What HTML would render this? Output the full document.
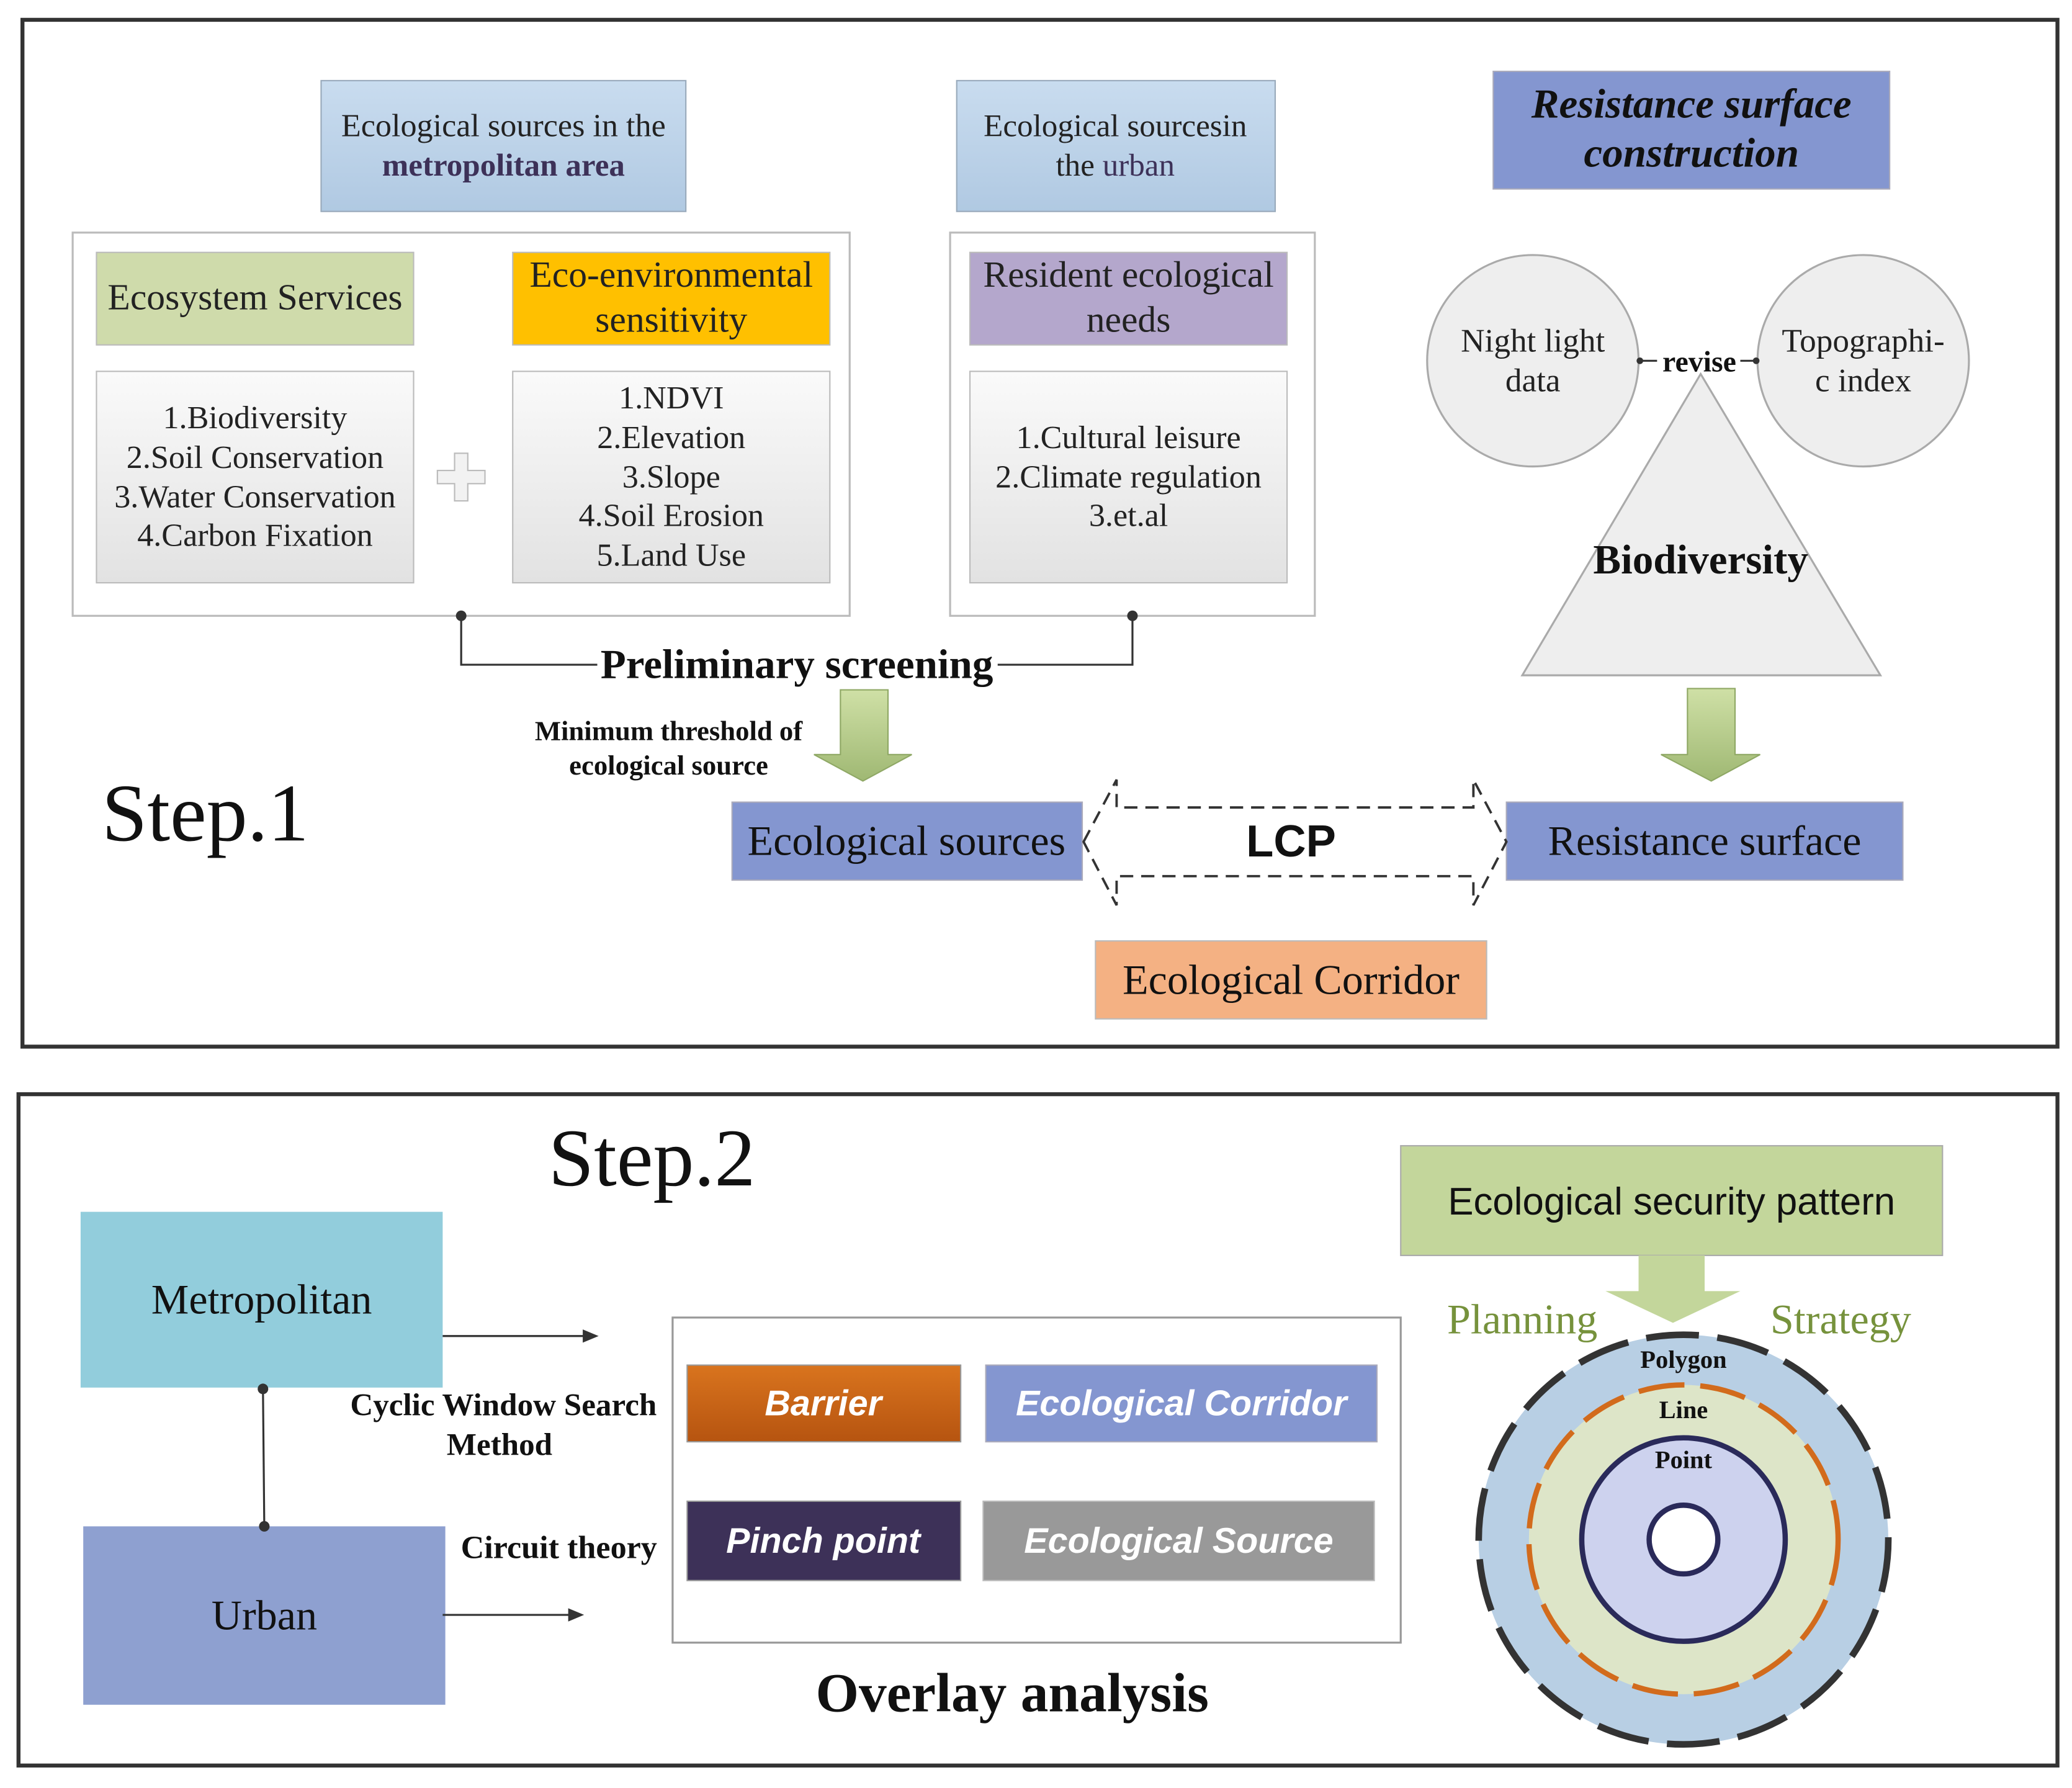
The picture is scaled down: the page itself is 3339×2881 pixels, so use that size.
<!DOCTYPE html>
<html><head><meta charset="utf-8"><style>
html,body{margin:0;padding:0;background:#fff;}
svg{display:block;}
.s{font-family:"Liberation Serif",serif;}
.a{font-family:"Liberation Sans","DejaVu Sans",sans-serif;}
</style></head><body>
<svg width="3339" height="2881" viewBox="0 0 1568 1353" preserveAspectRatio="none" xmlns="http://www.w3.org/2000/svg">
<defs>
<linearGradient id="gb" x1="0" y1="0" x2="0" y2="1"><stop offset="0" stop-color="#c9dcef"/><stop offset="1" stop-color="#b0c9e2"/></linearGradient>
<linearGradient id="gg" x1="0" y1="0" x2="0" y2="1"><stop offset="0" stop-color="#fafafa"/><stop offset="1" stop-color="#e2e2e2"/></linearGradient>
<linearGradient id="go" x1="0" y1="0" x2="0" y2="1"><stop offset="0" stop-color="#d9741e"/><stop offset="1" stop-color="#b65410"/></linearGradient>
<linearGradient id="gv" x1="0" y1="0" x2="0" y2="1"><stop offset="0" stop-color="#cfe0a6"/><stop offset="1" stop-color="#9fb873"/></linearGradient>
</defs>
<rect x="0" y="0" width="1568" height="1353" fill="#fff"/>
<rect x="17" y="15" width="1540" height="777" fill="#fff" stroke="#333" stroke-width="3"/>
<rect x="14" y="828" width="1543" height="508" fill="#fff" stroke="#333" stroke-width="3"/>

<rect x="243" y="61" width="276" height="99" fill="url(#gb)" stroke="#9ab" stroke-width="1"/>
<text class="s" x="381" y="103" font-size="24.5" text-anchor="middle" fill="#222">Ecological sources in the</text>
<text class="s" x="381" y="133" font-size="24" text-anchor="middle" fill="#3d3158" font-weight="bold">metropolitan area</text>
<rect x="724" y="61" width="241" height="99" fill="url(#gb)" stroke="#9ab" stroke-width="1"/>
<text class="s" x="844" y="103" font-size="24" text-anchor="middle" fill="#222">Ecological sourcesin</text>
<text class="s" x="844" y="133" font-size="24" text-anchor="middle" fill="#222">the <tspan fill="#3d3158">urban</tspan></text>
<rect x="1130" y="54" width="300" height="89" fill="#8496d0" stroke="#aab" stroke-width="1"/>
<text class="s" x="1280" y="89" font-size="31.5" text-anchor="middle" font-weight="bold" font-style="italic" fill="#111">Resistance surface</text>
<text class="s" x="1280" y="126" font-size="31.5" text-anchor="middle" font-weight="bold" font-style="italic" fill="#111">construction</text>

<rect x="55" y="176" width="588" height="290" fill="#fff" stroke="#bbb" stroke-width="1.5"/>
<rect x="719" y="176" width="276" height="290" fill="#fff" stroke="#bbb" stroke-width="1.5"/>
<rect x="73" y="191" width="240" height="70" fill="#cfdbab" stroke="#bbb"/>
<text class="s" x="193" y="234" font-size="28" text-anchor="middle" fill="#222">Ecosystem Services</text>
<rect x="388" y="191" width="240" height="70" fill="#ffc000" stroke="#bbb"/>
<text class="s" x="508" y="217" font-size="28" text-anchor="middle" fill="#222">Eco-environmental</text>
<text class="s" x="508" y="251" font-size="28" text-anchor="middle" fill="#222">sensitivity</text>
<rect x="734" y="191" width="240" height="70" fill="#b4a7cc" stroke="#bbb"/>
<text class="s" x="854" y="217" font-size="28" text-anchor="middle" fill="#222">Resident ecological</text>
<text class="s" x="854" y="251" font-size="28" text-anchor="middle" fill="#222">needs</text>

<rect x="73" y="281" width="240" height="160" fill="url(#gg)" stroke="#bbb"/>
<g class="s" font-size="24.5" text-anchor="middle" fill="#222">
<text x="193" y="324">1.Biodiversity</text>
<text x="193" y="354">2.Soil Conservation</text>
<text x="193" y="384">3.Water Conservation</text>
<text x="193" y="413">4.Carbon Fixation</text>
</g>
<rect x="388" y="281" width="240" height="160" fill="url(#gg)" stroke="#bbb"/>
<g class="s" font-size="24.5" text-anchor="middle" fill="#222">
<text x="508" y="309">1.NDVI</text>
<text x="508" y="339">2.Elevation</text>
<text x="508" y="369">3.Slope</text>
<text x="508" y="398">4.Soil Erosion</text>
<text x="508" y="428">5.Land Use</text>
</g>
<rect x="734" y="281" width="240" height="160" fill="url(#gg)" stroke="#bbb"/>
<g class="s" font-size="24.5" text-anchor="middle" fill="#222">
<text x="854" y="339">1.Cultural leisure</text>
<text x="854" y="369">2.Climate regulation</text>
<text x="854" y="398">3.et.al</text>
</g>
<path d="M344 343 h10 v13 h13 v10 h-13 v13 h-10 v-13 h-13 v-10 h13 z" fill="#f2f2f2" stroke="#bbb"/>

<polygon points="1287,283 1152,511 1423,511" fill="#eeeeee" stroke="#aaa" stroke-width="1.5"/>
<circle cx="1160" cy="273" r="80" fill="#eeeeee" stroke="#aaa" stroke-width="1.5"/>
<circle cx="1410" cy="273" r="80" fill="#eeeeee" stroke="#aaa" stroke-width="1.5"/>
<text class="s" x="1160" y="266" font-size="25" text-anchor="middle" fill="#222">Night light</text>
<text class="s" x="1160" y="296" font-size="25" text-anchor="middle" fill="#222">data</text>
<text class="s" x="1410" y="266" font-size="25" text-anchor="middle" fill="#222">Topographi-</text>
<text class="s" x="1410" y="296" font-size="25" text-anchor="middle" fill="#222">c index</text>
<line x1="1241" y1="273" x2="1254" y2="273" stroke="#333" stroke-width="1.5"/>
<line x1="1317" y1="273" x2="1330" y2="273" stroke="#333" stroke-width="1.5"/>
<circle cx="1241" cy="273" r="2.5" fill="#333"/><circle cx="1329" cy="273" r="2.5" fill="#333"/>
<text class="s" x="1286" y="281" font-size="22.5" text-anchor="middle" font-weight="bold" fill="#111">revise</text>
<text class="s" x="1287" y="434" font-size="31.5" text-anchor="middle" font-weight="bold" fill="#111">Biodiversity</text>

<polyline points="349,466 349,503 452,503" fill="none" stroke="#333" stroke-width="1.5"/>
<polyline points="755,503 857,503 857,466" fill="none" stroke="#333" stroke-width="1.5"/>
<circle cx="349" cy="466" r="4" fill="#333"/><circle cx="857" cy="466" r="4" fill="#333"/>
<text class="s" x="603" y="513" font-size="31.5" text-anchor="middle" font-weight="bold" fill="#111">Preliminary screening</text>
<text class="s" x="506" y="560" font-size="21" text-anchor="middle" font-weight="bold" fill="#111">Minimum threshold of</text>
<text class="s" x="506" y="586" font-size="21" text-anchor="middle" font-weight="bold" fill="#111">ecological source</text>

<polygon points="636,522 672,522 672,571 690,571 653,591 616,571 636,571" fill="url(#gv)" stroke="#8fa865"/>
<polygon points="1277,521 1313,521 1313,571 1332,571 1295,591 1257,571 1277,571" fill="url(#gv)" stroke="#8fa865"/>

<text class="s" x="77" y="636" font-size="62" fill="#111">Step.1</text>

<rect x="554" y="607" width="265" height="59" fill="#8496d0" stroke="#aab"/>
<text class="s" x="686" y="647" font-size="32" text-anchor="middle" fill="#111">Ecological sources</text>
<rect x="1140" y="607" width="300" height="59" fill="#8496d0" stroke="#aab"/>
<text class="s" x="1290" y="647" font-size="32" text-anchor="middle" fill="#111">Resistance surface</text>
<polygon points="820,637 845,590 845,611 1115,611 1115,590 1140,637 1115,685 1115,663 845,663 845,685" fill="#fff" stroke="#333" stroke-width="1.8" stroke-dasharray="10,6"/>
<text class="a" x="977" y="648" font-size="34" text-anchor="middle" font-weight="bold" fill="#111">LCP</text>
<rect x="829" y="712" width="296" height="59" fill="#f4b183" stroke="#bbb"/>
<text class="s" x="977" y="752" font-size="32" text-anchor="middle" fill="#111">Ecological Corridor</text>

<text class="s" x="415" y="897" font-size="62" fill="#111">Step.2</text>
<rect x="61" y="917" width="274" height="133" fill="#92cddc"/>
<text class="s" x="198" y="994" font-size="32" text-anchor="middle" fill="#111">Metropolitan</text>
<rect x="63" y="1155" width="274" height="135" fill="#8ea0d0"/>
<text class="s" x="200" y="1233" font-size="32" text-anchor="middle" fill="#111">Urban</text>
<line x1="199" y1="1051" x2="200" y2="1155" stroke="#333" stroke-width="1.5"/>
<circle cx="199" cy="1051" r="4" fill="#333"/><circle cx="200" cy="1155" r="4" fill="#333"/>
<line x1="335" y1="1011" x2="445" y2="1011" stroke="#333" stroke-width="1.5"/>
<polygon points="453,1011 441,1006 441,1016" fill="#333"/>
<line x1="335" y1="1222" x2="434" y2="1222" stroke="#333" stroke-width="1.5"/>
<polygon points="442,1222 430,1217 430,1227" fill="#333"/>
<text class="s" x="381" y="1071" font-size="24" text-anchor="middle" font-weight="bold" fill="#111">Cyclic Window Search</text>
<text class="s" x="378" y="1101" font-size="24" text-anchor="middle" font-weight="bold" fill="#111">Method</text>
<text class="s" x="423" y="1179" font-size="24.5" text-anchor="middle" font-weight="bold" fill="#111">Circuit theory</text>

<rect x="509" y="997" width="551" height="246" fill="#fff" stroke="#999" stroke-width="1.5"/>
<g class="a" font-size="27" font-weight="bold" font-style="italic" fill="#fff" text-anchor="middle">
<rect x="520" y="1033" width="207" height="58" fill="url(#go)" stroke="#999"/>
<text x="623" y="1071">Barrier</text>
<rect x="746" y="1033" width="296" height="58" fill="#8496d0" stroke="#aab"/>
<text x="894" y="1071">Ecological Corridor</text>
<rect x="520" y="1136" width="207" height="60" fill="#3d3158" stroke="#999"/>
<text x="623" y="1175">Pinch point</text>
<rect x="744" y="1136" width="296" height="60" fill="#999999" stroke="#bbb"/>
<text x="892" y="1175">Ecological Source</text>
</g>
<text class="s" x="766" y="1295" font-size="42" text-anchor="middle" font-weight="bold" fill="#111">Overlay analysis</text>

<rect x="1060" y="867" width="410" height="83" fill="#c3d69b" stroke="#aaa"/>
<text class="a" x="1265" y="919" font-size="29" text-anchor="middle" fill="#111">Ecological security pattern</text>
<polygon points="1240,950 1290,950 1290,977 1317,977 1266,1001 1215,977 1240,977" fill="#c3d69b"/>
<text class="s" x="1152" y="1009" font-size="32" text-anchor="middle" fill="#76923c">Planning</text>
<text class="s" x="1393" y="1009" font-size="32" text-anchor="middle" fill="#76923c">Strategy</text>

<circle cx="1274" cy="1165" r="155" fill="#b8cfe4" stroke="#333" stroke-width="5" stroke-dasharray="40,14"/>
<circle cx="1274" cy="1165" r="117" fill="#dde5c8" stroke="#d26b1c" stroke-width="4" stroke-dasharray="35,12"/>
<circle cx="1274" cy="1165" r="77" fill="#cdd2ee" stroke="#2a2a5a" stroke-width="4"/>
<circle cx="1274" cy="1165" r="26" fill="#fff" stroke="#2a2a5a" stroke-width="4"/>
<g class="s" font-size="19" font-weight="bold" text-anchor="middle" fill="#111">
<text x="1274" y="1035">Polygon</text>
<text x="1274" y="1073">Line</text>
<text x="1274" y="1111">Point</text>
</g>
</svg>
</body></html>
